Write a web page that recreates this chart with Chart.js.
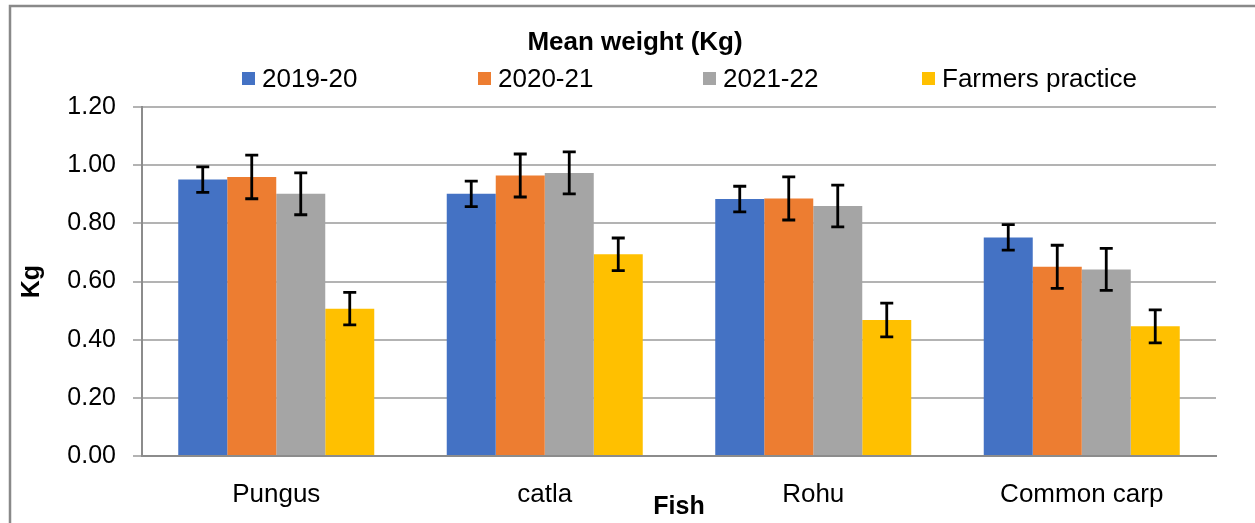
<!DOCTYPE html>
<html>
<head>
<meta charset="utf-8">
<script src="https://cdn.jsdelivr.net/npm/chart.js"></script>
<style>
  html, body { margin: 0; padding: 0; background: #ffffff; }
  #wrap { width: 1255px; height: 523px; }
</style>
</head>
<body>
<div id="wrap"><canvas id="meanWeight" width="1255" height="523"></canvas></div>
<script>
// values
let categories = ['Pungus', 'catla', 'Rohu', 'Common carp'];
let seriesNames = ['2019-20', '2020-21', '2021-22', 'Farmers practice'];
let y2019 = [0.951, 0.902, 0.884, 0.752];
let y2020 = [0.960, 0.965, 0.886, 0.651];
let y2021 = [0.902, 0.974, 0.860, 0.642];
let yFarmers = [0.507, 0.694, 0.468, 0.446];
let err2019 = [0.044, 0.044, 0.044, 0.044];
let err2020 = [0.075, 0.074, 0.074, 0.074];
let err2021 = [0.072, 0.072, 0.072, 0.072];
let errFarmers = [0.056, 0.056, 0.058, 0.057];
let yTicks = [0, 0.2, 0.4, 0.6, 0.8, 1.0, 1.2];

let colors = ['#4472C4', '#ED7D31', '#A5A5A5', '#FFC000'];
let values = [y2019, y2020, y2021, yFarmers];
let errors = [err2019, err2020, err2021, errFarmers];
let font = 'Liberation Sans, Arial, sans-serif';

// outer frame of the chart object (only top and left edge are inside the picture)
let framePlugin = {
    id: 'frame',
    beforeDraw(chart) {
        let ctx = chart.ctx;
        ctx.save();
        ctx.strokeStyle = '#898989';
        ctx.lineWidth = 2.5;
        ctx.beginPath();
        ctx.moveTo(10, chart.height + 5);
        ctx.lineTo(10, 6);
        ctx.lineTo(chart.width + 5, 6);
        ctx.stroke();
        ctx.restore();
    }
};

// title is centred on the whole frame, not on the padded area
let titleSpanPlugin = {
    id: 'titleSpan',
    afterLayout(chart) {
        if (chart.titleBlock) {
            chart.titleBlock.left = 10;
            chart.titleBlock.right = chart.width + 5;
        }
    }
};

// error bars, positioned with the bar elements and the y scale
let errorBarPlugin = {
    id: 'errorBars',
    afterDatasetsDraw(chart) {
        let ctx = chart.ctx;
        let yScale = chart.scales.y;
        ctx.save();
        ctx.strokeStyle = '#000000';
        ctx.lineWidth = 2.8;
        for (let i = 0; i < chart.data.datasets.length; i++) {
            let meta = chart.getDatasetMeta(i);
            let ds = chart.data.datasets[i];
            meta.data.forEach(function (bar, j) {
                let v = ds.data[j];
                let e = ds.errors[j];
                let top = yScale.getPixelForValue(v + e);
                let bottom = yScale.getPixelForValue(v - e);
                let x = bar.x;
                let cap = 6.5;
                ctx.beginPath();
                ctx.moveTo(x, top);
                ctx.lineTo(x, bottom);
                ctx.moveTo(x - cap, top);
                ctx.lineTo(x + cap, top);
                ctx.moveTo(x - cap, bottom);
                ctx.lineTo(x + cap, bottom);
                ctx.stroke();
            });
        }
        ctx.restore();
    }
};

// legend row spread out like the spreadsheet legend
let spreadLegendPlugin = {
    id: 'spreadLegend',
    afterDraw(chart, args, opts) {
        let ctx = chart.ctx;
        ctx.save();
        ctx.font = opts.fontSize + 'px ' + font;
        ctx.textBaseline = 'middle';
        ctx.textAlign = 'left';
        chart.data.datasets.forEach(function (ds, i) {
            let x = opts.starts[i];
            ctx.fillStyle = ds.backgroundColor;
            ctx.fillRect(x, opts.y - 6.5, 13, 13);
            ctx.fillStyle = '#000000';
            ctx.fillText(ds.label, x + 20, opts.y + 1);
        });
        ctx.restore();
    }
};

let datasets = [];
for (let i = 0; i < seriesNames.length; i++) {
    datasets.push({
        label: seriesNames[i],
        data: values[i],
        errors: errors[i],
        backgroundColor: colors[i],
        borderWidth: 0,
        categoryPercentage: 0.73,
        barPercentage: 1.0
    });
}

let ctx = document.getElementById('meanWeight').getContext('2d');
let barGraph = new Chart(ctx, {
    type: 'bar',
    data: {
        labels: categories,
        datasets: datasets
    },
    options: {
        responsive: false,
        animation: false,
        layout: { padding: { top: 27, left: 10, right: 39, bottom: 0 } },
        plugins: {
            title: {
                display: true,
                text: 'Mean weight (Kg)',
                color: '#000000',
                font: { family: font, size: 26, weight: 'bold', lineHeight: 1.2 },
                padding: { top: 0, bottom: 49 }
            },
            legend: { display: false },
            tooltip: { enabled: false },
            spreadLegend: { starts: [242, 478, 703, 922], y: 78.5, fontSize: 26 }
        },
        scales: {
            x: {
                grid: { display: false, drawTicks: false },
                border: { display: true, color: '#8c8c8c', width: 2 },
                ticks: {
                    color: '#000000',
                    font: { family: font, size: 26 },
                    padding: 23
                },
                title: {
                    display: true,
                    text: 'Fish',
                    color: '#000000',
                    font: { family: font, size: 25, weight: 'bold', lineHeight: 1.2 },
                    padding: { top: 0, bottom: 1 }
                },
                afterFit(scale) { scale.height = 67; }
            },
            y: {
                min: 0,
                max: 1.2,
                grid: { color: '#b3b3b3', lineWidth: 2, tickLength: 9 },
                border: { display: true, color: '#8c8c8c', width: 2 },
                afterBuildTicks(scale) {
                    scale.ticks = yTicks.map(function (v) { return { value: v }; });
                },
                ticks: {
                    color: '#000000',
                    font: { family: font, size: 25 },
                    padding: 17,
                    callback: function (value) { return Number(value).toFixed(2); }
                },
                title: {
                    display: true,
                    text: 'Kg',
                    color: '#000000',
                    font: { family: font, size: 25, weight: 'bold', lineHeight: 1.2 },
                    padding: { top: 7, bottom: 0 }
                },
                afterFit(scale) { scale.width = 132; }
            }
        }
    },
    plugins: [framePlugin, titleSpanPlugin, errorBarPlugin, spreadLegendPlugin]
});
</script>
</body>
</html>
